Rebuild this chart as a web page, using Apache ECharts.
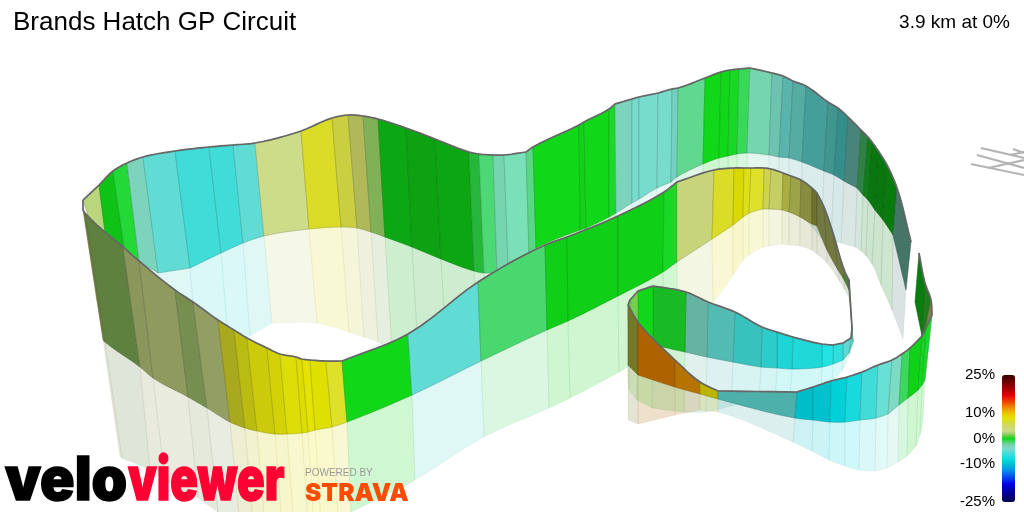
<!DOCTYPE html>
<html><head><meta charset="utf-8">
<style>html,body{margin:0;padding:0;background:#fff}#c{width:1024px;height:512px}</style>
<script src="https://cdn.jsdelivr.net/npm/echarts@6/dist/echarts.min.js"></script>
</head><body><div id="c"></div>
<script>
const titleText = 'Brands Hatch GP Circuit';
const summaryText = '3.9 km at 0%';
const scaleTicks = [-25, -10, 0, 10, 25];
const scaleGrades = [-25,-18,-15,-12,-10,-9,-8,-7,-6,-5,-4,-3,-2,-1,0,1,2,3,5,7,8,10,12,14,17,20,25];
const scaleColours = ['#000050','#0000e0','#0050f0','#00a0e8','#00c0d0','#00d0d8','#10dce0','#20e0e0','#40dcd8','#60dcd4','#78dccc','#7cd4bc','#60d890','#38d858','#10d818','#5ed040','#a5d070','#ccdc88','#d0d860','#dadc28','#e4e400','#f0c000','#f09000','#f05000','#e00000','#a00000','#380000'];

// far wall
const backTop = [[83,200],[99,185],[113,171],[127,163],[143,157],[175,151],[209,147],[233,145],[255,143],[301,131],[332,118],[348,115],[363,116],[378,119],[406,128],[435,139],[469,152],[479,154],[493,155],[504,155],[526,152],[533,147],[579,125],[584,122],[609,109],[615,104],[632,99],[639,97],[658,93],[672,89],[678,88],[705,78],[721,72],[730,70],[739,69],[750,68],[772,73],[783,76],[793,81],[806,86],[828,102],[838,108],[848,117],[861,130],[868,137],[872,142],[879,152],[887,165],[897,188],[911,242]];
const backBase = [[90,222],[105,232],[124,247],[139,261],[158,273],[190,268],[221,253],[243,243],[264,236],[309,229],[341,227],[357,228],[371,232],[385,237],[412,247],[441,259],[474,271],[484,273],[497,272],[508,263],[529,253],[536,248],[580,230],[586,228],[609,217],[616,213],[632,203],[639,199],[657,188],[671,182],[677,177],[703,164],[719,158],[728,156],[737,154],[747,153],[769,155],[779,157],[789,158],[802,162],[824,171],[834,175],[844,181],[857,188],[863,195],[868,200],[875,210],[883,220],[893,235],[906,290]];
const backFoot = [[96,300],[112,318],[133,335],[150,355],[170,370],[198,365],[229,350],[250,336],[272,323],[317,323],[349,332],[364,337],[378,342],[392,350],[418,352],[446,350],[478,345],[487,340],[500,340],[510,335],[531,330],[538,325],[581,305],[586,305],[609,295],[616,290],[632,285],[639,280],[657,265],[671,255],[677,250],[703,235],[719,230],[728,220],[737,215],[747,210],[769,205],[779,206],[789,210],[802,215],[821,238],[831,240],[841,243],[855,247],[861,251],[866,256],[872,264],[881,285],[892,310],[903,339]];
const backGrade = [2.5,0,-0.5,-3,-5,-6,-6,-5,3,7,6,4.5,1.8,0,0,0,-0.7,-1.5,-2.7,-2.7,-1.8,0,0,0,-0.3,-3,-4,-4,-4,-4,-2,0,0,-0.2,-1,-2.7,-3.5,-4.5,-4.5,-5,-5,-5.5,-4,-1.5,-0.3,0,0,0,-3];
const backLight = [1,0.9,1,1,1,1,1,1,1,1,0.95,0.85,0.85,0.78,0.75,0.77,0.85,1,1,1.05,1,1,0.97,1,1,1,1,1,1,0.95,1,1,1,1,1,1,0.9,0.82,0.78,0.72,0.68,0.65,0.6,0.6,0.58,0.55,0.55,0.57,0.55];

// near wall, long run from the left corner to the hairpin
const nearTop = [[83,210],[85,213],[123,247],[139,261],[175,290],[193,302],[218,320],[234,330],[247,338],[267,348],[280,354],[296,357],[302,359],[310,360],[326,361],[342,361],[408,334],[478,282],[545,245],[567,237],[618,216],[664,192],[677,182],[714,170],[734,168],[744,168],[751,168],[764,168],[771,169],[783,173],[791,176],[801,180],[812,188],[817,193],[824,207],[833,233],[845,272],[849,280],[852,328]];
const nearBase = [[103,340],[105,342],[140,367],[153,378],[188,397],[207,408],[230,422],[245,428],[257,431],[275,434],[287,434],[302,433],[308,432],[315,430],[332,427],[347,422],[412,395],[481,361],[547,330],[568,321],[618,296],[663,272],[677,262],[712,239],[733,225],[743,217],[749,213],[763,209],[769,209],[782,210],[789,212],[800,217],[812,224],[817,226],[827,250],[838,270],[843,278],[849,290],[853,342]];
const nearFoot = [[120,456],[122,458],[150,470],[165,480],[198,498],[218,512],[240,525],[254,533],[266,537],[283,540],[295,540],[309,540],[315,539],[322,538],[339,530],[351,512],[415,480],[484,437],[549,408],[570,398],[619,372],[664,345],[678,335],[713,302],[733,275],[743,260],[749,255],[763,247],[769,246],[782,244],[789,245],[800,246],[812,250],[817,254],[827,263],[840,282],[845,290],[850,300],[853,345]];
const nearGrade = [4.5,1.8,3,3,2.2,3,7,7.5,7.7,7.8,7.8,8,8,8,7,0,-5,-1.4,0,0,0,-0.2,3.5,7,8,7.4,7,5.5,4.5,5.5,5,5,5.5,4,4,4,1.5,1];
const nearLight = [0.6,0.62,0.68,0.7,0.68,0.72,0.77,0.84,0.9,0.93,0.98,0.97,1,0.98,1.02,1,1,1,0.96,0.96,0.96,1,0.97,1,0.95,1,1.02,0.97,0.95,0.8,0.75,0.65,0.52,0.55,0.55,0.55,0.6,0.65];

// hairpin, inner face
const loopTop = [[852,328],[851,338],[843,343],[833,345],[822,344],[793,337],[777,332],[762,327],[735,312],[708,302],[686,292],[653,286],[638,291],[630,300],[628,305]];
const loopBase = [[853,342],[849,353],[843,360],[833,364],[822,367],[792,369],[777,368],[761,367],[733,362],[707,357],[685,352],[653,345],[638,335],[630,325],[628,320]];
const loopFoot = [[853,345],[849,356],[842,371],[832,382],[821,392],[790,398],[775,399],[759,400],[731,406],[706,412],[684,412],[652,408],[637,400],[629,390],[628,380]];
const loopGrade = [-5,-5,-6.5,-7,-7,-7,-6.5,-6,-5,-3.5,-0.3,0,1.3,1.5];
const loopLight = [0.98,0.98,1,1.02,0.97,0.95,0.92,0.88,0.85,0.83,0.86,1,1,1];

// front run from the hairpin exit around to the right end
const frontTop = [[628,305],[638,322],[675,360],[700,382],[718,391],[797,392],[813,387],[831,381],[847,377],[862,372],[878,365],[892,360],[902,354],[910,348],[922,336],[926,328],[932,315]];
const frontBase = [[628,365],[638,375],[675,387],[700,394],[718,399],[795,418],[813,420],[830,422],[845,422],[860,420],[876,418],[888,414],[899,405],[908,398],[918,390],[922,385],[925,380]];
const frontFoot = [[628,420],[638,424],[675,415],[700,410],[718,412],[793,442],[812,451],[829,460],[845,466],[859,470],[875,471],[887,468],[898,462],[907,456],[916,446],[920,435],[923,420]];
const frontGrade = [6,12.3,11.7,8.5,-5,-9.5,-9.5,-9,-7.5,-6,-4.7,-3.2,-1.1,0,-0.1,-0.3];
const frontLight = [0.55,0.73,0.76,0.82,0.8,0.95,0.97,1,0.98,1,1.02,1.02,1,0.97,1,1];

// short piece behind the right end
const rightTop = [[919,253],[925,283],[931,300],[932,315]];
const rightBase = [[915,302],[922,336],[925,330],[926,328]];
const rightGrade = [0,0.5,3.5];
const rightLight = [0.58,0.58,0.6];

// grey stubs at the right edge
const farStrokes = [
  [[981,148],[1024,158]],
  [[977,155],[1024,168]],
  [[971,164],[1024,175]],
  [[988,168],[1024,160]],
  [[1013,149],[1024,153]],
  [[1010,155],[1024,152]]
];

const palette = [];
for (let g = -25; g <= 25; g++) {
  let i = 0;
  while (i < scaleGrades.length - 2 && scaleGrades[i + 1] < g) i++;
  const t = (g - scaleGrades[i]) / (scaleGrades[i + 1] - scaleGrades[i]);
  const a = echarts.color.parse(scaleColours[i]), b = echarts.color.parse(scaleColours[i + 1]);
  palette.push('rgb(' + [0,1,2].map(k => Math.round(a[k] + (b[k] - a[k]) * t)).join(',') + ')');
}
function shaded(c, light) {
  const p = echarts.color.parse(c);
  return [0,1,2].map(k => Math.min(255, Math.round(p[k] * light)));
}
// drawing helper: rounds the edge between two read stations, keeps real corners sharp
function unit(a, b) { const dx = b[0]-a[0], dy = b[1]-a[1], l = Math.hypot(dx, dy) || 1; return [dx/l, dy/l]; }
function tangents(pts, j) {
  const inD = j > 0 ? unit(pts[j-1], pts[j]) : null;
  const outD = j < pts.length-1 ? unit(pts[j], pts[j+1]) : null;
  if (!inD) return [outD, outD];
  if (!outD) return [inD, inD];
  if (inD[0]*outD[0] + inD[1]*outD[1] < 0.96) return [inD, outD];
  const m = [inD[0]+outD[0], inD[1]+outD[1]], l = Math.hypot(m[0], m[1]) || 1;
  return [[m[0]/l, m[1]/l], [m[0]/l, m[1]/l]];
}
function curve(pts, i) {
  const a = pts[i], b = pts[i+1], len = Math.hypot(b[0]-a[0], b[1]-a[1]);
  const m0 = tangents(pts, i)[1], m1 = tangents(pts, i+1)[0], out = [];
  for (let s = 0; s <= 6; s++) {
    const t = s/6, t2 = t*t, t3 = t2*t;
    const h00 = 2*t3-3*t2+1, h10 = t3-2*t2+t, h01 = -2*t3+3*t2, h11 = t3-t2;
    out.push([h00*a[0]+h10*len*m0[0]+h01*b[0]+h11*len*m1[0], h00*a[1]+h10*len*m0[1]+h01*b[1]+h11*len*m1[1]]);
  }
  return out;
}
function wallSeries(upper, lower, grade, light, alpha) {
  return {
    type: 'custom', coordinateSystem: 'cartesian2d', xAxisIndex: 0, yAxisIndex: 0, silent: true, animation: false,
    data: grade.map((g, i) => [i, g, light[i]]),
    dimensions: ['seg', 'grade', 'light'],
    encode: { tooltip: 1 },
    renderItem(params, api) {
      const i = api.value(0);
      const pts = curve(upper, i).concat(curve(lower, i).reverse()).map(p => api.coord(p));
      const rgb = shaded(api.visual('color'), api.value(2)).join(',');
      const edge = shaded(api.visual('color'), api.value(2) * 0.72).join(',');
      return { type: 'polygon', shape: { points: pts },
        style: { fill: 'rgba(' + rgb + ',' + alpha + ')', stroke: 'rgba(' + edge + ',' + (alpha < 1 ? 0.07 : 0.5) + ')', lineWidth: 1 } };
    }
  };
}
function edgeSeries(points) {
  return {
    type: 'custom', coordinateSystem: 'cartesian2d', xAxisIndex: 0, yAxisIndex: 0, silent: true, animation: false,
    data: [[0]],
    renderItem(params, api) {
      let all = [];
      for (let i = 0; i < points.length - 1; i++) all = all.concat(curve(points, i));
      return { type: 'polyline', shape: { points: all.map(p => api.coord(p)) },
        style: { stroke: '#666666', lineWidth: 1.7, fill: null } };
    }
  };
}
const series = [
  wallSeries(backBase, backFoot, backGrade, backLight, 0.2),
  wallSeries(nearBase, nearFoot, nearGrade, nearLight, 0.2),
  wallSeries(loopBase, loopFoot, loopGrade, loopLight, 0.2),
  wallSeries(frontBase, frontFoot, frontGrade, frontLight, 0.2),
  wallSeries(backTop, backBase, backGrade, backLight, 1),
  edgeSeries(backTop),
  wallSeries(rightTop, rightBase, rightGrade, rightLight, 1),
  edgeSeries(rightTop),
  wallSeries(nearTop, nearBase, nearGrade, nearLight, 1),
  edgeSeries([[83,200]].concat(nearTop)),
  wallSeries(loopTop, loopBase, loopGrade, loopLight, 1),
  edgeSeries(loopTop),
  wallSeries(frontTop, frontBase, frontGrade, frontLight, 1),
  edgeSeries(frontTop)
].concat(farStrokes.map(s => ({ type: 'line', data: s, showSymbol: false, silent: true, animation: false,
  lineStyle: { color: '#b4b4b4', width: 2.2 } })));

const chart = echarts.init(document.getElementById('c'), null, { renderer: 'canvas' });
chart.setOption({
  animation: false, backgroundColor: '#ffffff',
  title: [
    { text: titleText, left: 13, top: 10, padding: 0, textStyle: { fontFamily: 'Liberation Sans', fontSize: 26, fontWeight: 'normal', color: '#000' } },
    { text: summaryText, right: 14, top: 13, padding: 0, textStyle: { fontFamily: 'Liberation Sans', fontSize: 19, fontWeight: 'normal', color: '#000' } }
  ],
  grid: [
    { left: 0, right: 0, top: 0, bottom: 0 },
    { left: 1002, width: 13, top: 375, height: 127 }
  ],
  xAxis: [
    { type: 'value', min: 0, max: 1024, show: false, gridIndex: 0 },
    { type: 'value', min: 0, max: 1, show: false, gridIndex: 1 }
  ],
  yAxis: [
    { type: 'value', min: 0, max: 512, inverse: true, show: false, gridIndex: 0 },
    { type: 'value', min: -25, max: 25, gridIndex: 1, axisLine: { show: false }, axisTick: { show: false }, splitLine: { show: false },
      axisLabel: { customValues: scaleTicks, formatter: '{value}%', margin: 7, color: '#000', fontSize: 15, fontFamily: 'Liberation Sans' } }
  ],
  visualMap: {
    type: 'continuous', min: -25, max: 25, dimension: 1, seriesIndex: [0,1,2,3,4,6,8,10,12],
    inRange: { color: palette }, left: 1002, top: 375, itemWidth: 13, itemHeight: 127, padding: 0,
    calculable: false, realtime: false, text: null, showLabel: false, hoverLink: false, silent: true
  },
  series,
  graphic: [
    { type: 'text', x: 5, y: 452, z: 100, scaleX: 0.95, silent: true, style: { text: 'velo', fill: '#000', stroke: '#000', lineWidth: 1.5, fontFamily: 'Inter', fontWeight: 900, fontSize: 60 } },
    { type: 'text', x: 128, y: 452, z: 100, scaleX: 0.76, silent: true, style: { text: 'viewer', fill: '#ff0033', stroke: '#ff0033', lineWidth: 1.5, fontFamily: 'Inter', fontWeight: 900, fontSize: 60 } },
    { type: 'text', x: 305, y: 468, z: 100, silent: true, style: { text: 'POWERED BY', fill: '#999', fontFamily: 'Liberation Sans', fontSize: 10 } },
    { type: 'text', x: 305, y: 481, z: 100, scaleX: 0.98, silent: true, style: { text: 'STRAVA', fill: '#fc4c02', fontFamily: 'Inter', fontWeight: 900, fontSize: 25 } }
  ]
});
</script></body></html>
